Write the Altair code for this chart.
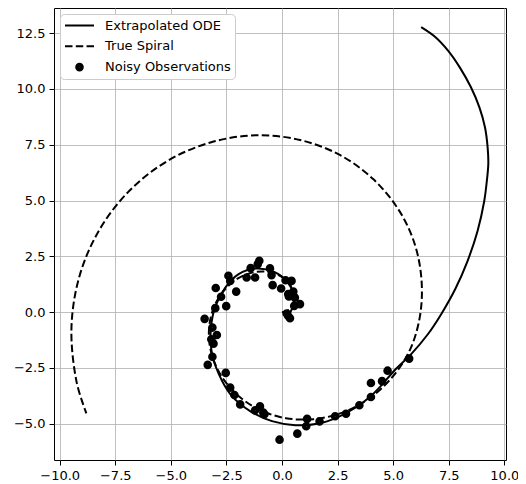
import altair as alt
import pandas as pd

# ---- values ----
series = ["Extrapolated ODE", "True Spiral", "Noisy Observations"]

obs_x = [-3.48, -2.98, -2.41, -2.06, -2.51, -3.00, -2.74, -2.33, -3.13, -2.93,
         -3.18, -3.08, -3.13, -3.34, -2.53, -2.33, -2.14, -1.88, -1.21, -0.99,
         -0.79, -1.59, -1.21, -1.41, -1.09, -1.02, -0.54, -0.47, -0.42, -0.04,
         0.16, 0.43, 0.51, 0.31, 0.81, 0.55, 0.28, 0.36, 0.21, 0.58,
         0.28, -0.11, 0.69, 1.09, 1.13, 1.69, 2.39, 2.88, 3.48, 4.00,
         4.00, 4.50, 4.75, 5.72, -0.84]
obs_y = [-0.30, 1.08, 1.63, 0.92, 0.27, 0.18, 0.69, 1.40, -0.69, -1.02,
         -1.21, -1.41, -2.00, -2.36, -2.72, -3.38, -3.71, -4.13, -4.39, -4.22,
         -4.57, 1.55, 1.55, 1.97, 2.15, 2.30, 1.96, 1.66, 1.21, 1.06,
         1.43, 1.40, 0.92, 0.70, 0.36, 0.28, -0.17, -0.27, -0.06, 0.65,
         0.81, -5.71, -5.44, -5.11, -4.78, -4.89, -4.66, -4.55, -4.17, -3.80,
         -3.17, -3.09, -2.62, -2.08, -4.50]

ode_x = [0.30, 0.50, 0.52, 0.25, -0.35, -1.20, -1.95, -2.55, -3.00, -3.20,
         -3.16, -2.85, -2.30, -1.40, -0.45, 0.60, 1.60, 2.52, 3.30, 3.95,
         4.45, 5.07, 5.81, 6.56, 7.16, 7.80, 8.35, 8.80, 9.10, 9.20,
         9.28, 9.25, 9.13, 8.88, 8.50, 8.01, 7.46, 6.88, 6.26]
ode_y = [-0.15, 0.30, 0.80, 1.35, 1.80, 1.95, 1.70, 1.10, 0.25, -0.75,
         -1.80, -2.75, -3.70, -4.45, -4.88, -5.06, -5.00, -4.70, -4.28, -3.80,
         -3.30, -2.60, -1.88, -0.99, -0.09, 1.05, 2.30, 3.65, 4.99, 5.75,
         6.64, 7.38, 8.28, 9.17, 10.07, 10.94, 11.72, 12.33, 12.76]

true_x = [0.00, 0.24, 0.44, 0.55, 0.54, 0.39, 0.11, -0.31, -0.83, -1.41,
          -2.00, -2.54, -2.97, -3.23, -3.28, -3.08, -2.61, -1.90, -0.95, 0.18,
          1.42, 2.69, 3.90, 4.95, 5.76, 6.20, 6.28, 5.98, 5.25, 4.10,
          2.60, 0.81, -1.16, -3.18, -5.12, -6.84, -8.20, -9.11, -9.47, -9.24,
          -8.80]
true_y = [0.00, 0.06, 0.24, 0.51, 0.84, 1.19, 1.50, 1.72, 1.82, 1.75,
          1.50, 1.05, 0.42, -0.35, -1.23, -2.14, -3.03, -3.80, -4.40, -4.75,
          -4.79, -4.51, -3.88, -2.92, -1.68, -0.21, 1.38, 3.02, 4.58, 5.96,
          7.04, 7.71, 7.92, 7.61, 6.79, 5.46, 3.71, 1.61, -0.71, -3.12,
          -4.53]

x_ticks = [-10, -7.5, -5, -2.5, 0, 2.5, 5, 7.5, 10]
y_ticks = [-5, -2.5, 0, 2.5, 5, 7.5, 10, 12.5]

# ---- tables ----
obs_df = pd.DataFrame({"x": obs_x, "y": obs_y, "series": series[2]})
ode_df = pd.DataFrame({"x": ode_x, "y": ode_y, "i": range(len(ode_x))})
true_df = pd.DataFrame({"x": true_x, "y": true_y, "i": range(len(true_x))})

FONT = "DejaVu Sans"
MINUS = "replace(datum.label, '-', '\u2212')"

def axis(vals):
    return alt.Axis(values=vals, format=".1f", labelExpr=MINUS, title=None,
                    grid=True, gridColor="#b0b0b0", gridWidth=0.8,
                    domain=False, tickColor="black", tickSize=5, tickWidth=1,
                    labelFont=FONT, labelFontSize=13, labelColor="black",
                    labelPadding=4)

X = alt.X("x:Q", scale=alt.Scale(domain=[-10.255, 10.076], nice=False, zero=False),
          axis=axis(x_ticks))
Y = alt.Y("y:Q", scale=alt.Scale(domain=[-6.62, 13.62], nice=False, zero=False),
          axis=axis(y_ticks))

def ring(r):
    return f"M{r},0A{r},{r},0,1,1,-{r},0A{r},{r},0,1,1,{r},0Z"

line_path = "M-1,0H1"
dash_path = "M-1,0H-0.483M-0.255,0H0.258M0.486,0H1"
dot_path = ring(0.228) + ring(0.138) + ring(0.055)

legend = alt.Legend(
    title=None, orient="top-left", offset=6, fillColor="white",
    strokeColor="#cccccc", cornerRadius=4, padding=4, symbolSize=841,
    clipHeight=15, rowPadding=5.8, labelOffset=10,
    labelFont=FONT, labelFontSize=13, labelColor="black",
    symbolStrokeColor="black", symbolStrokeWidth=2, symbolOpacity=1,
)

points = alt.Chart(obs_df).mark_point(
    filled=False, size=841, color="black", strokeWidth=2, opacity=1
).encode(
    x=X, y=Y,
    shape=alt.Shape("series:N", scale=alt.Scale(domain=series,
                    range=[line_path, dash_path, dot_path]), legend=legend),
)

true_line = alt.Chart(true_df).mark_line(
    color="black", strokeWidth=2, strokeDash=[7.5, 3.3], interpolate="catmull-rom"
).encode(x=X, y=Y, order="i:Q")

ode_line = alt.Chart(ode_df).mark_line(
    color="black", strokeWidth=2, interpolate="catmull-rom"
).encode(x=X, y=Y, order="i:Q")

chart = alt.layer(points, true_line, ode_line).properties(
    width=452, height=452,
    autosize=alt.AutoSizeParams(type="none"),
    padding={"left": 46, "top": 0, "right": 12, "bottom": 24},
).configure(background="white", font=FONT).configure_view(
    stroke="black", strokeWidth=1
)

chart.save("out.html", embed_options={"renderer": "svg", "actions": False})
